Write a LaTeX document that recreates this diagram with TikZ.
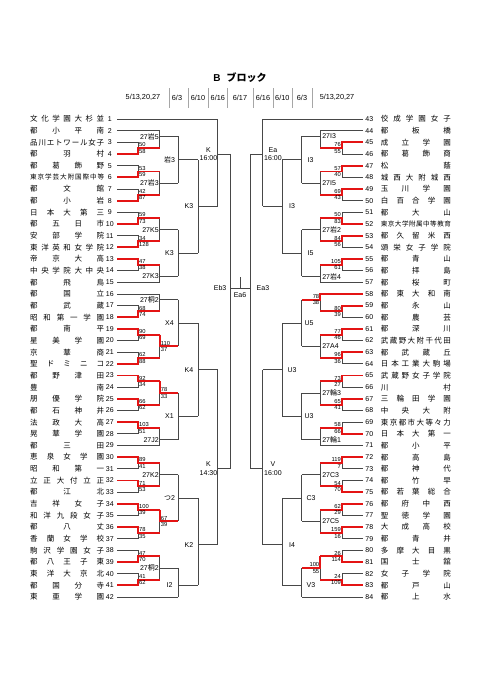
\documentclass[tikz,border=0pt]{standalone}
\usepackage{fontspec}
\setmainfont{Liberation Sans}
\newfontfamily\jp{Noto Sans CJK JP}
\makeatletter
\newcommand\spr[2]{\makebox[#1][s]{\expandafter\spr@a#2\relax}}
\def\spr@a#1{#1\spr@b}
\def\spr@b#1{\ifx#1\relax\else\hfill#1\expandafter\spr@b\fi}
\makeatother
\definecolor{myred}{RGB}{228,20,20}
\def\lxa{117}\def\lxb{138}\def\lxc{159.7}\def\lxd{178.3}\def\lxe{198}\def\lxf{217.5}\def\lxg{230}
\def\rxa{363}\def\rxb{342}\def\rxc{320.3}\def\rxd{301.7}\def\rxe{282}\def\rxf{262.5}\def\rxg{250}
\tikzset{
 gl/.style={draw=black!72, line width=0.75pt},
 rl/.style={draw=myred, line width=1.9pt},
 sep/.style={draw=black!35, line width=0.4pt},
 sc/.style={font=\fontsize{5.8}{6}\selectfont, inner sep=0pt},
 lab/.style={font=\fontsize{7}{8.4}\selectfont, inner sep=0pt, align=center},
 nm/.style={font=\jp\fontsize{7.5}{8}\selectfont, inner sep=0pt},
 nms/.style={font=\jp\fontsize{6.6}{7}\selectfont, inner sep=0pt},
 num/.style={font=\fontsize{7}{8}\selectfont, inner sep=0pt},
 dt/.style={font=\fontsize{7.3}{8}\selectfont, inner sep=0pt},
}
\newcommand\brk[5]{\draw[gl] (#1,{ry(#2)}) -- (#1,{ry(#3)}) (#1,{ry(#4)}) -- (#5,{ry(#4)});}
\newcommand\lpair[4]{%
 \pgfmathsetmacro\ya{ry(#1)}\pgfmathsetmacro\yb{ry(#1+1)}\pgfmathsetmacro\ym{ry(#1+0.5)}%
 \ifnum#2=1\relax
  \draw[gl] (\lxa,\yb) -- (\lxb,\yb) -- (\lxb,\ym);
  \draw[rl] (\lxa,\ya) -- (\lxb,\ya) -- (\lxb,\ym) -- (\lxc,\ym);
 \else
  \draw[gl] (\lxa,\ya) -- (\lxb,\ya) -- (\lxb,\ym);
  \draw[rl] (\lxa,\yb) -- (\lxb,\yb) -- (\lxb,\ym) -- (\lxc,\ym);
 \fi
 \node[sc,anchor=south west] (ls#1a) at (\lxb+0.9,\ym-0.9) {#3};
 \node[sc,anchor=north west] (ls#1b) at (\lxb+0.9,\ym+0.9) {#4};
}
\newcommand\rpair[4]{%
 \pgfmathsetmacro\ya{ry(#1)}\pgfmathsetmacro\yb{ry(#1+1)}\pgfmathsetmacro\ym{ry(#1+0.5)}%
 \ifnum#2=1\relax
  \draw[gl] (\rxa,\yb) -- (\rxb,\yb) -- (\rxb,\ym);
  \draw[rl] (\rxa,\ya) -- (\rxb,\ya) -- (\rxb,\ym) -- (\rxc,\ym);
 \else
  \draw[gl] (\rxa,\ya) -- (\rxb,\ya) -- (\rxb,\ym);
  \draw[rl] (\rxa,\yb) -- (\rxb,\yb) -- (\rxb,\ym) -- (\rxc,\ym);
 \fi
 \node[sc,anchor=south east] (rs#1a) at (\rxb-0.9,\ym-0.9) {#3};
 \node[sc,anchor=north east] (rs#1b) at (\rxb-0.9,\ym+0.9) {#4};
}
\begin{document}
\begin{tikzpicture}[x=1pt,y=-1pt,declare function={ry(\k)=119+(\k-1)*11.66;}]
\useasboundingbox (0,0) rectangle (481,680);
\fill[white] (0,0) rectangle (481,680);
% header
\node[inner sep=0pt] (title) at (240,78) {\fontsize{10}{12}\selectfont\bfseries B\hspace{6pt}{\jp ブロック}};
\node[dt] (d1) at (143,97.7) {5/13,20,27};
\node[dt] (d2) at (177,97.7) {6/3};
\node[dt] (d3) at (198,97.7) {6/10};
\node[dt] (d4) at (217.8,97.7) {6/16};
\node[dt] (d5) at (240,97.7) {6/17};
\node[dt] (d6) at (263,97.7) {6/16};
\node[dt] (d7) at (282.3,97.7) {6/10};
\node[dt] (d8) at (302,97.7) {6/3};
\node[dt] (d9) at (337,97.7) {5/13,20,27};
\foreach \x in {169.3,188.3,208.3,227.3,253.3,272.7,292,311.7} \draw[sep] (\x,88) -- (\x,108);
% names left
\foreach \n/\t in {1/文化学園大杉並,2/都小平南,3/品川エトワール女子,4/都羽村,5/都葛飾野,7/都文館,8/都小岩,9/日本大第三,10/都五日市,11/安部学院,12/東洋英和女学院,13/帝京大高,14/中央学院大中央,15/都飛鳥,16/都国立,17/都武蔵,18/昭和第一学園,19/都南平,20/星美学園,21/京華商,22/聖ドミニコ,23/都野津田,24/豊南,25/朋優学院,26/都石神井,27/法政大高,28/晃華学園,29/都三田,30/恵泉女学園,31/昭和第一,32/立正大付立正,33/都江北,34/吉祥女子,35/和洋九段女子,36/都八丈,37/香蘭女学校,38/駒沢学園女子,39/都八王子東,40/東洋大京北,41/都国分寺,42/東亜学園}
 {\node[nm,anchor=west] (L\n) at (30,{ry(\n)}) {\spr{74pt}{\t}};}
\node[nms,anchor=west] (L6) at (30,{ry(6)}) {\spr{74pt}{東京学芸大附国際中等}};
\foreach \n in {1,...,42} {\node[num] (LN\n) at (109.8,{ry(\n)}) {\n};}
% names right
\foreach \n/\t in {43/佼成学園女子,44/都板橋,45/成立学園,46/都葛飾商,47/松蔭,48/城西大附城西,49/玉川学園,50/白百合学園,51/都大山,53/都久留米西,54/頌栄女子学院,55/都青山,56/都拝島,57/都桜町,58/都東大和南,59/都永山,60/都農芸,61/都深川,62/武蔵野大附千代田,63/都武蔵丘,64/日本工業大駒場,65/武蔵野女子学院,66/川村,67/三輪田学園,68/中央大附,69/東京都市大等々力,70/日本大第一,71/都小平,72/都高島,73/都神代,74/都竹早,75/都若葉総合,76/都府中西,77/聖徳学園,78/大成高校,79/都青井,80/多摩大目黒,81/国士舘,82/女子学院,83/都戸山,84/都上水}
 {\node[nm,anchor=west] (R\n) at (380.7,{ry(\n-42)}) {\spr{70pt}{\t}};}
\node[nms,anchor=west] (R52) at (380.7,{ry(10)}) {\spr{70pt}{東京大学附属中等教育}};
\foreach \n in {43,...,84} {\node[num] (RN\n) at (369.3,{ry(\n-42)}) {\n};}
% ---------- left bracket ----------
\draw[gl] (\lxa,{ry(1)}) -- (\lxf,{ry(1)});
\draw[gl] (\lxa,{ry(2)}) -- (\lxc,{ry(2)});
\draw[gl] (\lxa,{ry(15)}) -- (\lxc,{ry(15)});
\draw[gl] (\lxa,{ry(16)}) -- (\lxc,{ry(16)});
\draw[gl] (\lxa,{ry(29)}) -- (\lxc,{ry(29)});
\draw[gl] (\lxa,{ry(42)}) -- (\lxd,{ry(42)});
\brk{\lxc}{2}{3.5}{2.5}{\lxd}
\brk{\lxc}{5.5}{7.5}{6.5}{\lxd}
\brk{\lxd}{2.5}{6.5}{4.5}{\lxe}
\brk{\lxc}{9.5}{11.5}{10.5}{\lxd}
\brk{\lxc}{13.5}{15}{14.5}{\lxd}
\brk{\lxd}{10.5}{14.5}{12.5}{\lxe}
\brk{\lxe}{4.5}{12.5}{8.5}{\lxf}
\brk{\lxf}{1}{8.5}{4}{\lxg}
\brk{\lxc}{16}{17.5}{16.5}{\lxd}
\brk{\lxc}{19.5}{21.5}{20.5}{\lxd}
\brk{\lxd}{16.5}{20.5}{18.5}{\lxe}
\brk{\lxc}{23.5}{25.5}{24.5}{\lxd}
\brk{\lxc}{27.5}{29}{28.5}{\lxd}
\brk{\lxd}{24.5}{28.5}{26.5}{\lxe}
\brk{\lxe}{18.5}{26.5}{22.5}{\lxf}
\brk{\lxc}{30.5}{32.5}{31.5}{\lxd}
\brk{\lxc}{34.5}{36.5}{35.5}{\lxd}
\brk{\lxd}{31.5}{35.5}{33.5}{\lxe}
\brk{\lxc}{38.5}{40.5}{39.5}{\lxd}
\brk{\lxd}{39.5}{42}{41}{\lxe}
\brk{\lxe}{33.5}{41}{37.5}{\lxf}
\brk{\lxf}{22.5}{37.5}{31}{\lxg}
\draw[gl] (\lxg,{ry(4)}) -- (\lxg,{ry(31)});
% ---------- right bracket ----------
\draw[gl] (\rxa,{ry(1)}) -- (\rxf,{ry(1)});
\draw[gl] (\rxa,{ry(2)}) -- (\rxc,{ry(2)});
\draw[gl] (\rxa,{ry(15)}) -- (\rxc,{ry(15)});
\draw[gl] (\rxa,{ry(29)}) -- (\rxc,{ry(29)});
\draw[gl] (\rxa,{ry(42)}) -- (\rxd,{ry(42)});
\brk{\rxc}{2}{3.5}{2.5}{\rxd}
\brk{\rxc}{5.5}{7.5}{6.5}{\rxd}
\brk{\rxd}{2.5}{6.5}{4.5}{\rxe}
\brk{\rxc}{9.5}{11.5}{10.5}{\rxd}
\brk{\rxc}{13.5}{15}{14.5}{\rxd}
\brk{\rxd}{10.5}{14.5}{12.5}{\rxe}
\brk{\rxe}{4.5}{12.5}{8.5}{\rxf}
\brk{\rxf}{1}{8.5}{4}{\rxg}
\brk{\rxc}{16}{17.5}{16.5}{\rxd}
\brk{\rxc}{19.5}{21.5}{20.5}{\rxd}
\brk{\rxd}{16.5}{20.5}{18.5}{\rxe}
\brk{\rxc}{23.5}{25.5}{24.5}{\rxd}
\brk{\rxc}{27.5}{29}{28.5}{\rxd}
\brk{\rxd}{24.5}{28.5}{26.5}{\rxe}
\brk{\rxe}{18.5}{26.5}{22.5}{\rxf}
\brk{\rxc}{30.5}{32.5}{31.5}{\rxd}
\brk{\rxc}{34.5}{36.5}{35.5}{\rxd}
\brk{\rxd}{31.5}{35.5}{33.5}{\rxe}
\brk{\rxc}{38.5}{40.5}{39.5}{\rxd}
\brk{\rxd}{39.5}{42}{41}{\rxe}
\brk{\rxe}{33.5}{41}{37.5}{\rxf}
\brk{\rxf}{22.5}{37.5}{31}{\rxg}
\draw[gl] (\rxg,{ry(4)}) -- (\rxg,{ry(31)});
% centre
\coordinate (cl) at (\lxg,{ry(15.5)});
\coordinate (cr) at (\rxg,{ry(15.5)});
\coordinate (ct) at (240,{ry(15.5)-11});
\coordinate (cm) at (240,{ry(15.5)});
\draw[gl] (cl) -- (cr);
\draw[gl] (ct) -- (cm);
\node[lab,anchor=east] (eb3) at (226.5,{ry(15.5)}) {Eb3};
\node[lab] (ea6) at (240,{ry(15.5)+7}) {Ea6};
\node[lab,anchor=west] (ea3) at (256.5,{ry(15.5)}) {Ea3};
% ---------- first round (red) ----------
\lpair{3}{2}{50}{58}
\lpair{5}{2}{53}{59}
\lpair{7}{2}{42}{87}
\lpair{9}{2}{59}{73}
\lpair{11}{2}{34}{128}
\lpair{13}{1}{47}{38}
\lpair{17}{2}{68}{74}
\lpair{19}{1}{90}{69}
\lpair{21}{2}{62}{88}
\lpair{23}{1}{92}{34}
\lpair{25}{1}{66}{62}
\lpair{27}{1}{103}{51}
\lpair{30}{1}{89}{41}
\lpair{32}{1}{71}{53}
\lpair{34}{1}{100}{39}
\lpair{36}{1}{78}{35}
\lpair{38}{2}{47}{70}
\lpair{40}{2}{41}{62}
\draw[rl] (\lxc,{ry(19.5)}) -- (\lxc,{ry(20.5)}) -- (\lxd,{ry(20.5)});
\draw[rl] (\lxc,{ry(23.5)}) -- (\lxc,{ry(24.5)}) -- (\lxd,{ry(24.5)});
\draw[rl] (\lxc,{ry(34.5)}) -- (\lxc,{ry(35.5)}) -- (\lxd,{ry(35.5)});
\node[sc,anchor=south west] (lq1a) at (\lxc+0.9,{ry(20.5)-0.9}) {110};
\node[sc,anchor=north west] (lq1b) at (\lxc+0.9,{ry(20.5)+0.9}) {37};
\node[sc,anchor=south west] (lq2a) at (\lxc+0.9,{ry(24.5)-0.9}) {78};
\node[sc,anchor=north west] (lq2b) at (\lxc+0.9,{ry(24.5)+0.9}) {33};
\node[sc,anchor=south west] (lq3a) at (\lxc+0.9,{ry(35.5)-0.9}) {67};
\node[sc,anchor=north west] (lq3b) at (\lxc+0.9,{ry(35.5)+0.9}) {39};
\rpair{3}{1}{76}{55}
\rpair{5}{1}{57}{40}
\rpair{7}{1}{69}{43}
\rpair{9}{2}{50}{83}
\rpair{11}{1}{84}{56}
\rpair{13}{1}{105}{61}
\rpair{17}{1}{80}{39}
\rpair{19}{1}{77}{46}
\rpair{21}{1}{96}{36}
\rpair{23}{1}{73}{27}
\rpair{25}{1}{65}{41}
\rpair{27}{2}{58}{66}
\rpair{30}{1}{119}{7}
\rpair{32}{2}{54}{70}
\rpair{34}{1}{62}{29}
\rpair{36}{1}{159}{16}
\rpair{38}{2}{26}{114}
\rpair{40}{2}{24}{109}
\draw[rl] (\rxa,{ry(16)}) -- (\rxc,{ry(16)}) -- (\rxc,{ry(16.5)}) -- (\rxd,{ry(16.5)});
\draw[rl] (\rxc,{ry(38.5)}) -- (\rxc,{ry(39.5)}) -- (\rxd,{ry(39.5)});
\node[sc,anchor=south east] (rq1a) at (\rxc-0.9,{ry(16.5)-0.9}) {78};
\node[sc,anchor=north east] (rq1b) at (\rxc-0.9,{ry(16.5)+0.9}) {38};
\node[sc,anchor=south east] (rq2a) at (\rxc-0.9,{ry(39.5)-0.9}) {100};
\node[sc,anchor=north east] (rq2b) at (\rxc-0.9,{ry(39.5)+0.9}) {55};
% ---------- labels left ----------
\node[lab,anchor=east] (la1) at (\lxc-0.8,{ry(2.5)}) {27{\jp 岩}5};
\node[lab,anchor=east] (la2) at (\lxc-0.8,{ry(6.5)}) {27{\jp 岩}3};
\node[lab,anchor=east] (la3) at (\lxc-0.8,{ry(10.5)}) {27K5};
\node[lab,anchor=east] (la4) at (\lxc-0.8,{ry(14.5)}) {27K3};
\node[lab,anchor=east] (la5) at (\lxc-0.8,{ry(16.5)}) {27{\jp 桐}2};
\node[lab,anchor=east] (la6) at (\lxc-0.8,{ry(28.5)}) {27J2};
\node[lab,anchor=east] (la7) at (\lxc-0.8,{ry(31.5)}) {27K2};
\node[lab,anchor=east] (la8) at (\lxc-0.8,{ry(39.5)}) {27{\jp 桐}2};
\node[lab] (lb1) at (169.5,{ry(4.5)}) {{\jp 岩}3};
\node[lab] (lb2) at (169.5,{ry(12.5)}) {K3};
\node[lab] (lb3) at (169.5,{ry(18.5)}) {X4};
\node[lab] (lb4) at (169.5,{ry(26.5)}) {X1};
\node[lab] (lb5) at (169.5,{ry(33.5)}) {{\jp つ}2};
\node[lab] (lb6) at (169.5,{ry(41)}) {I2};
\node[lab] (lc1) at (189,{ry(8.5)}) {K3};
\node[lab] (lc2) at (189,{ry(22.5)}) {K4};
\node[lab] (lc3) at (189,{ry(37.5)}) {K2};
\node[lab] (ld1) at (208.5,{ry(4)}) {K\\16:00};
\node[lab] (ld2) at (208.5,{ry(31)}) {K\\14:30};
% ---------- labels right ----------
\node[lab,anchor=west] (ra1) at (\rxc+1.8,{ry(2.5)}) {27I3};
\node[lab,anchor=west] (ra2) at (\rxc+1.8,{ry(6.5)}) {27I5};
\node[lab,anchor=west] (ra3) at (\rxc+1.8,{ry(10.5)}) {27{\jp 岩}2};
\node[lab,anchor=west] (ra4) at (\rxc+1.8,{ry(14.5)}) {27{\jp 岩}4};
\node[lab,anchor=west] (ra5) at (\rxc+1.8,{ry(20.5)}) {27A4};
\node[lab,anchor=west] (ra6) at (\rxc+1.8,{ry(24.5)}) {27{\jp 輪}3};
\node[lab,anchor=west] (ra7) at (\rxc+1.8,{ry(28.5)}) {27{\jp 輪}1};
\node[lab,anchor=west] (ra8) at (\rxc+1.8,{ry(31.5)}) {27C3};
\node[lab,anchor=west] (ra9) at (\rxc+1.8,{ry(35.5)}) {27C5};
\node[lab] (rb1) at (310.5,{ry(4.5)}) {I3};
\node[lab] (rb2) at (310.5,{ry(12.5)}) {I5};
\node[lab] (rb3) at (309,{ry(18.5)}) {U5};
\node[lab] (rb4) at (309,{ry(26.5)}) {U3};
\node[lab] (rb5) at (311,{ry(33.5)}) {C3};
\node[lab] (rb6) at (311,{ry(41)}) {V3};
\node[lab] (rc1) at (292,{ry(8.5)}) {I3};
\node[lab] (rc2) at (292,{ry(22.5)}) {U3};
\node[lab] (rc3) at (292,{ry(37.5)}) {I4};
\node[lab] (rd1) at (273,{ry(4)}) {Ea\\16:00};
\node[lab] (rd2) at (273,{ry(31)}) {V\\16:00};
\end{tikzpicture}
\end{document}
